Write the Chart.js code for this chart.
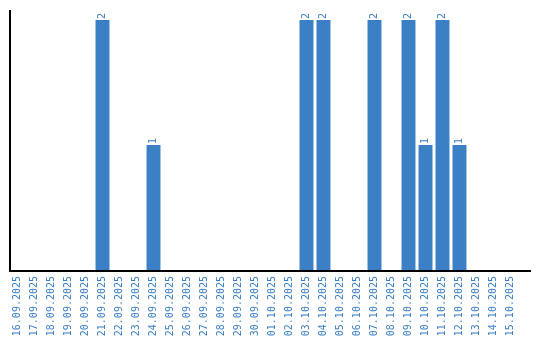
<!DOCTYPE html>
<html>
<head>
<meta charset="utf-8">
<script src="https://cdn.jsdelivr.net/npm/chart.js@4"></script>
<style>
  html, body { margin: 0; padding: 0; background: #fff; }
  #grafico { display: block; }
</style>
</head>
<body>
<canvas id="grafico" width="540" height="340"></canvas>
<script>
const datas = [
  '16.09.2025', '17.09.2025', '18.09.2025', '19.09.2025', '20.09.2025',
  '21.09.2025', '22.09.2025', '23.09.2025', '24.09.2025', '25.09.2025',
  '26.09.2025', '27.09.2025', '28.09.2025', '29.09.2025', '30.09.2025',
  '01.10.2025', '02.10.2025', '03.10.2025', '04.10.2025', '05.10.2025',
  '06.10.2025', '07.10.2025', '08.10.2025', '09.10.2025', '10.10.2025',
  '11.10.2025', '12.10.2025', '13.10.2025', '14.10.2025', '15.10.2025'
];
const valores = [
  0, 0, 0, 0, 0,
  2, 0, 0, 1, 0,
  0, 0, 0, 0, 0,
  0, 0, 2, 2, 0,
  0, 2, 0, 2, 1,
  2, 1, 0, 0, 0
];

const azul = '#3b7fc4';
const azulTexto = '#3a7ec3';

// Eixos desenhados à mão (linha vertical e base)
const eixos = {
  id: 'eixos',
  afterDatasetsDraw(chart) {
    const { ctx, chartArea } = chart;
    ctx.save();
    ctx.strokeStyle = '#000';
    ctx.lineWidth = 2;
    ctx.beginPath();
    ctx.moveTo(10, chartArea.top);
    ctx.lineTo(10, chartArea.bottom + 1);
    ctx.lineTo(531, chartArea.bottom + 1);
    ctx.stroke();
    ctx.restore();
  }
};

// Rótulos de valor acima das barras, rotacionados
const rotulos = {
  id: 'rotulos',
  afterDatasetsDraw(chart) {
    const { ctx } = chart;
    const meta = chart.getDatasetMeta(0);
    ctx.save();
    ctx.fillStyle = azulTexto;
    ctx.font = '10px "DejaVu Sans Mono"';
    ctx.textAlign = 'left';
    ctx.textBaseline = 'middle';
    meta.data.forEach((bar, i) => {
      const v = valores[i];
      if (!v) return;
      ctx.save();
      ctx.translate(bar.x, bar.y - 1);
      ctx.rotate(-Math.PI / 2);
      ctx.fillText(String(v), 0, 0);
      ctx.restore();
    });
    ctx.restore();
  }
};

new Chart(document.getElementById('grafico').getContext('2d'), {
  type: 'bar',
  data: {
    labels: datas,
    datasets: [{
      data: valores,
      backgroundColor: azul,
      borderWidth: 0,
      categoryPercentage: 1,
      barPercentage: 0.82
    }]
  },
  options: {
    responsive: false,
    animation: false,
    layout: { padding: { left: 9, right: 21, top: 10, bottom: 0 } },
    plugins: { legend: { display: false }, tooltip: { enabled: false } },
    scales: {
      x: {
        grid: { display: false, drawTicks: false },
        border: { display: false },
        ticks: {
          color: azulTexto,
          font: { family: 'DejaVu Sans Mono', size: 10 },
          minRotation: 90,
          maxRotation: 90,
          autoSkip: false,
          padding: 6
        },
        afterFit: s => { s.height = 70; }
      },
      y: {
        display: false,
        min: 0,
        max: 2.08
      }
    }
  },
  plugins: [eixos, rotulos]
});
</script>
</body>
</html>
